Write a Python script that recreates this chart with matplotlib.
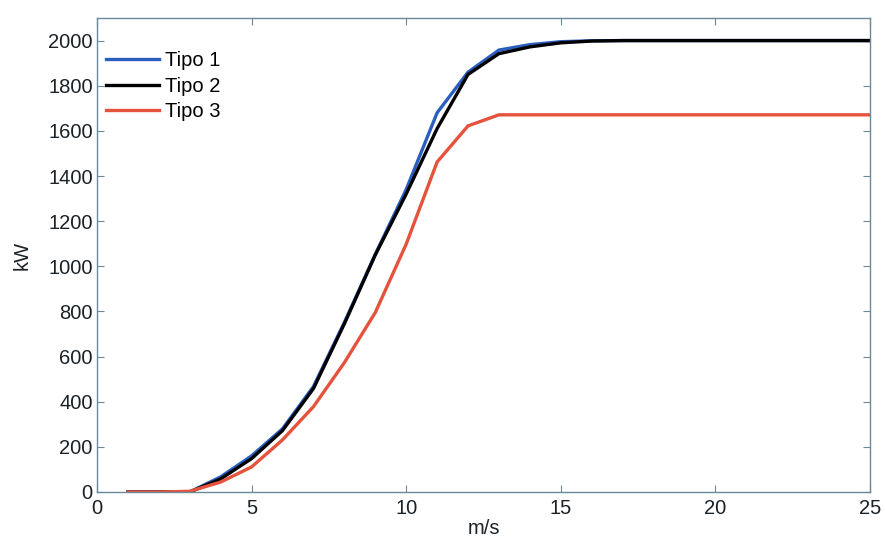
import numpy as np
import matplotlib.pyplot as plt

plt.rcParams['font.family'] = ['Liberation Sans', 'DejaVu Sans']

wind = list(range(1, 26))
tipo1 = [0, 0, 0, 67, 160, 280, 467, 751, 1053, 1340, 1680, 1860, 1958, 1982, 1995, 1999,
         2000, 2000, 2000, 2000, 2000, 2000, 2000, 2000, 2000]
tipo2 = [0, 0, 0, 58, 148, 272, 458, 745, 1050, 1320, 1610, 1850, 1942, 1972, 1990, 1998,
         2000, 2000, 2000, 2000, 2000, 2000, 2000, 2000, 2000]
tipo3 = [0, 0, 3, 44, 111, 231, 378, 573, 795, 1098, 1462, 1622, 1671, 1671, 1671, 1671,
         1671, 1671, 1671, 1671, 1671, 1671, 1671, 1671, 1671]
labels = ['Tipo 1', 'Tipo 2', 'Tipo 3']
colors = ['#2b5fbf', '#000000', '#e5533c']

fig = plt.figure(figsize=(8.85, 5.39), dpi=100)
ax = fig.add_axes([0.1096, 0.0872, 0.8734, 0.8794])

for ys, lab, col in zip([tipo1, tipo2, tipo3], labels, colors):
    ax.plot(wind, ys, color=col, lw=2.4, label=lab)

ax.set_xlim(0, 25)
ax.set_ylim(0, 2100)
ax.set_xticks([0, 5, 10, 15, 20, 25])
ax.set_yticks(np.arange(0, 2001, 200))
ax.tick_params(direction='in', top=True, right=True, labelsize=14.5, length=5,
               color='#6a8a9a', labelcolor='#1a2228', pad=5)
ax.tick_params(axis='y', pad=3)
for sp in ax.spines.values():
    sp.set_color('#6a8a9a')
    sp.set_linewidth(1.0)
ax.set_xlabel('m/s', fontsize=14.5, labelpad=1, color='#1a2228')
ax.set_ylabel('kW', fontsize=14.5, labelpad=12, color='#1a2228')

ax.legend(loc='upper left', frameon=False, fontsize=14.5, handlelength=2.6,
          handletextpad=0.3, labelspacing=0.32, borderaxespad=0, borderpad=0,
          bbox_to_anchor=(0.012, 0.93))

fig.savefig('out.png', dpi=100)
